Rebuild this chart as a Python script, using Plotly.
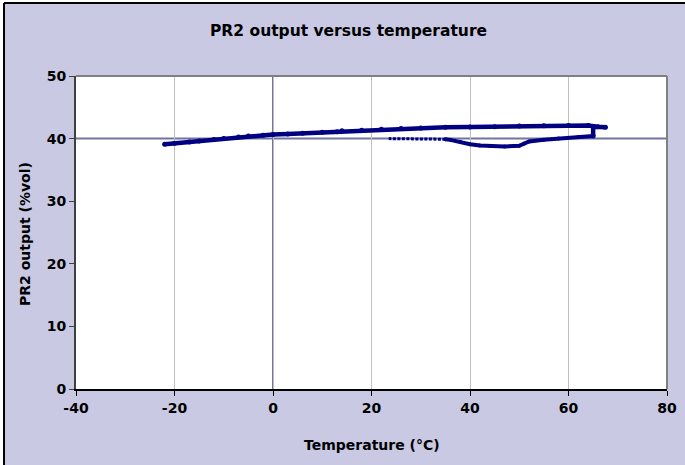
import plotly.graph_objects as go

# Upper branch (heating), then drop at ~65 °C
upper_x = [-22, -20, -17, -15, -12, -10, -7, -5, -2, 0, 3, 6, 10, 13, 14, 18, 22, 26, 30, 35,
           40, 45, 50, 55, 60, 64, 66, 67.5, 65, 65]
upper_y = [39.1, 39.25, 39.45, 39.6, 39.85, 40.0, 40.25, 40.4, 40.55, 40.65, 40.75, 40.85, 41.0,
           41.1, 41.25, 41.35, 41.5, 41.6, 41.7, 41.8, 41.85, 41.9, 42.0, 42.05, 42.1, 42.1,
           41.9, 41.8, 41.9, 40.4]
# Lower branch (cooling back)
lower_x = [65, 62, 58, 55, 52, 51, 50, 47, 44, 42, 40, 38, 36, 35]
lower_y = [40.4, 40.25, 40.0, 39.8, 39.55, 39.2, 38.85, 38.75, 38.8, 38.9, 39.1, 39.5, 39.8, 39.9]
tail_x = [35, 33, 31, 29, 27, 25, 23.5]
tail_y = [39.9, 39.9, 39.9, 39.92, 39.95, 39.97, 40.0]

x_ticks = [-40, -20, 0, 20, 40, 60, 80]
y_ticks = [0, 10, 20, 30, 40, 50]

NAVY = "#000080"
BG = "#C9C9E3"
CROSS = "#7272A4"
FONT = "DejaVu Sans, Liberation Sans, Arial"

fig = go.Figure()
fig.add_trace(go.Scatter(x=upper_x, y=upper_y, mode="lines+markers",
                         line=dict(color=NAVY, width=4.5), marker=dict(color=NAVY, size=5),
                         hoverinfo="skip", showlegend=False))
fig.add_trace(go.Scatter(x=lower_x, y=lower_y, mode="lines+markers",
                         line=dict(color=NAVY, width=4), marker=dict(color=NAVY, size=4),
                         hoverinfo="skip", showlegend=False))
fig.add_trace(go.Scatter(x=tail_x, y=tail_y, mode="lines",
                         line=dict(color=NAVY, width=3, dash="3px,1.5px"),
                         hoverinfo="skip", showlegend=False))

W, H = 685, 465
L, R, T, B = 76, 18, 76, 76
pw, ph = W - L - R, H - T - B

def px_x(p):
    return (p - L) / pw

def px_y(p):
    return (H - B - p) / ph

shapes = [
    # white outside strips + chart border
    dict(type="rect", xref="paper", yref="paper", x0=px_x(-10), x1=px_x(4), y0=px_y(H + 10), y1=px_y(-10),
         fillcolor="white", line=dict(width=0), layer="below"),
    dict(type="rect", xref="paper", yref="paper", x0=px_x(-10), x1=px_x(W + 10), y0=px_y(3), y1=px_y(-10),
         fillcolor="white", line=dict(width=0), layer="below"),
    dict(type="line", xref="paper", yref="paper", x0=px_x(4), x1=px_x(W + 10), y0=px_y(3), y1=px_y(3),
         line=dict(color="black", width=2)),
    dict(type="line", xref="paper", yref="paper", x0=px_x(4), x1=px_x(4), y0=px_y(3), y1=px_y(H + 10),
         line=dict(color="black", width=2)),
    # plot area border (grey) top & right
    dict(type="line", xref="paper", yref="paper", x0=0, x1=1, y0=1, y1=1,
         line=dict(color="#808080", width=2)),
    dict(type="line", xref="paper", yref="paper", x0=1, x1=1, y0=0, y1=1,
         line=dict(color="#808080", width=2)),
    # crossing axis lines
    dict(type="line", xref="x", yref="paper", x0=0, x1=0, y0=0, y1=1,
         line=dict(color=CROSS, width=2), layer="below"),
    dict(type="line", xref="paper", yref="y", x0=0, x1=1, y0=40, y1=40,
         line=dict(color=CROSS, width=2), layer="below"),
]

annotations = [
    dict(text="<b>PR2 output versus temperature</b>", xref="paper", yref="paper",
         x=px_x(348), y=px_y(31), xanchor="center", yanchor="middle", showarrow=False,
         font=dict(family=FONT, size=15.5, color="black")),
    dict(text="<b>Temperature (°C)</b>", xref="paper", yref="paper",
         x=0.5, y=px_y(445), xanchor="center", yanchor="middle", showarrow=False,
         font=dict(family=FONT, size=14, color="black")),
    dict(text="<b>PR2 output (%vol)</b>", xref="paper", yref="paper",
         x=px_x(25), y=px_y(234), xanchor="center", yanchor="middle", showarrow=False,
         textangle=-90, font=dict(family=FONT, size=14, color="black")),
]

fig.update_layout(
    width=W, height=H,
    margin=dict(l=L, r=R, t=T, b=B, autoexpand=False),
    paper_bgcolor=BG, plot_bgcolor="white",
    shapes=shapes, annotations=annotations,
    font=dict(family=FONT, size=14, color="black"),
    xaxis=dict(range=[-40, 80], tickvals=x_ticks, ticktext=[str(v) for v in x_ticks],
               showgrid=True, gridcolor="#C0C0C0", gridwidth=1, zeroline=False,
               showline=True, linecolor="black", linewidth=2, automargin=False,
               ticks="outside", ticklen=5, tickcolor="black", tickwidth=1,
               tickfont=dict(size=14, weight="bold"), fixedrange=True),
    yaxis=dict(range=[0, 50], tickvals=y_ticks, ticktext=[str(v) for v in y_ticks],
               showgrid=False, zeroline=False, automargin=False,
               showline=True, linecolor="#404040", linewidth=2,
               ticks="outside", ticklen=5, tickcolor="#404040", tickwidth=1,
               tickfont=dict(size=14, weight="bold"), fixedrange=True),
)

fig.write_html("out.html", config={"displayModeBar": False},
               post_script="document.body.style.margin='0';")
